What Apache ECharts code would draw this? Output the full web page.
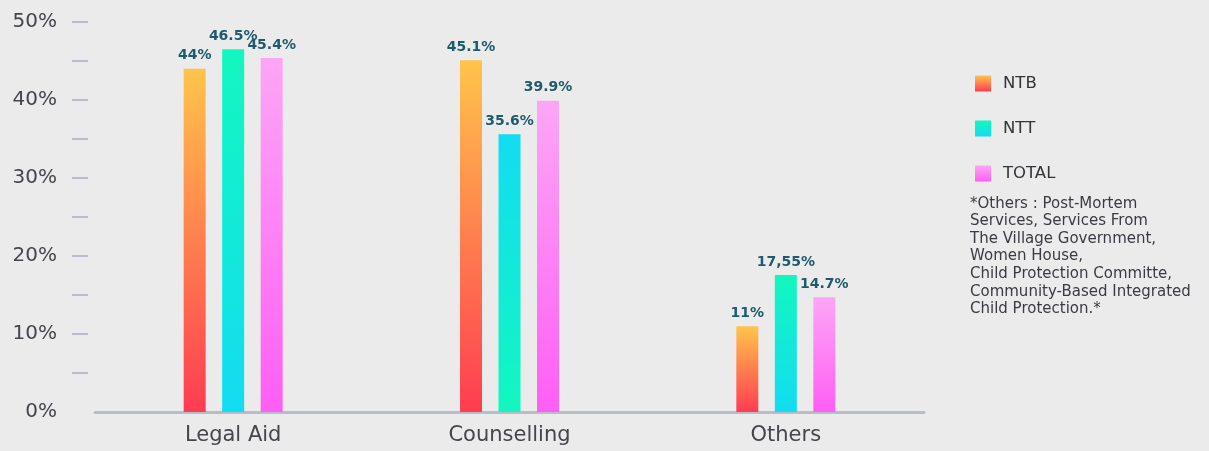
<!DOCTYPE html>
<html>
<head>
<meta charset="utf-8">
<script src="https://cdn.jsdelivr.net/npm/echarts@6/dist/echarts.min.js"></script>
<style>
  html, body { margin: 0; padding: 0; background: #ecebec; }
  #chart { width: 1209px; height: 451px; }
</style>
</head>
<body>
<div id="chart"></div>
<script>
// Service categories and shares (%) per region
const categories = ['Legal Aid', 'Counselling', 'Others'];
const ntbValues = [44, 45.1, 11];
const nttValues = [46.5, 35.6, 17.55];
const totalValues = [45.4, 39.9, 14.7];
const ntbLabels = ['44%', '45.1%', '11%'];
const nttLabels = ['46.5%', '35.6%', '17,55%'];
const totalLabels = ['45.4%', '39.9%', '14.7%'];
const yTickLabels = ['0%', '10%', '20%', '30%', '40%', '50%'];
const footnote = [
  '*Others : Post-Mortem',
  'Services, Services From',
  'The Village Government,',
  'Women House,',
  'Child Protection Committe,',
  'Community-Based Integrated',
  'Child Protection.*'
];

const FONT = 'DejaVu Sans';

function vgrad(top, bottom) {
  return new echarts.graphic.LinearGradient(0, 0, 0, 1, [
    { offset: 0, color: top },
    { offset: 1, color: bottom }
  ]);
}

const ntbColor = vgrad('#ffc44b', '#ff3c52');
const nttColor = vgrad('#12f7bf', '#12dcf2');
const nttColorFlip = vgrad('#12dcf2', '#12f7bf');
const totalColor = vgrad('#fca6f6', '#ff5ef4');

function makeLabel(texts) {
  return {
    show: true,
    position: 'top',
    distance: 6,
    fontFamily: FONT,
    fontWeight: 700,
    fontSize: 14,
    color: '#1d5a6b',
    formatter: p => texts[p.dataIndex]
  };
}

const chart = echarts.init(document.getElementById('chart'), null, { renderer: 'canvas' });

chart.setOption({
  backgroundColor: '#ecebec',
  animation: false,
  textStyle: { fontFamily: FONT },
  grid: { left: 95, right: 285, top: 22, bottom: 39, containLabel: false },
  legend: {
    orient: 'vertical',
    left: 970,
    top: 70,
    itemWidth: 16,
    itemHeight: 16,
    itemGap: 28,
    icon: 'rect',
    textStyle: { fontFamily: FONT, fontSize: 16.5, color: '#333338', padding: [0, 0, 0, 7] },
    data: ['NTB', 'NTT', 'TOTAL']
  },
  xAxis: {
    type: 'category',
    data: categories,
    axisLine: { show: true, lineStyle: { color: '#b9bdca', width: 3 } },
    axisTick: { show: false },
    axisLabel: { fontFamily: FONT, fontSize: 21, color: '#45454c', margin: 13 }
  },
  yAxis: {
    type: 'value',
    min: 0,
    max: 50,
    interval: 10,
    offset: 7,
    splitLine: { show: false },
    axisLine: { show: false },
    axisTick: {
      show: true,
      length: 16,
      customValues: [5, 10, 15, 20, 25, 30, 35, 40, 45, 50],
      lineStyle: { color: '#b9bdca', width: 2 }
    },
    axisLabel: {
      margin: 31,
      fontFamily: FONT,
      fontSize: 20,
      color: '#45454c',
      formatter: v => yTickLabels[Math.round(v / 10)]
    }
  },
  series: [
    {
      name: 'NTB',
      type: 'bar',
      barWidth: 22,
      barGap: '75%',
      itemStyle: { color: ntbColor },
      label: makeLabel(ntbLabels),
      data: ntbValues
    },
    {
      name: 'NTT',
      type: 'bar',
      barWidth: 22,
      barGap: '75%',
      itemStyle: { color: nttColor },
      label: makeLabel(nttLabels),
      data: nttValues.map((v, i) => ({
        value: v,
        itemStyle: { color: i === 1 ? nttColorFlip : nttColor }
      }))
    },
    {
      name: 'TOTAL',
      type: 'bar',
      barWidth: 22,
      barGap: '75%',
      itemStyle: { color: totalColor },
      label: makeLabel(totalLabels),
      data: totalValues
    }
  ],
  graphic: [
    {
      type: 'text',
      left: 970,
      top: 195,
      style: {
        text: footnote.join('\n'),
        fontFamily: FONT,
        fontSize: 15,
        lineHeight: 17.6,
        fill: '#3a3a42'
      }
    }
  ]
});
</script>
</body>
</html>
